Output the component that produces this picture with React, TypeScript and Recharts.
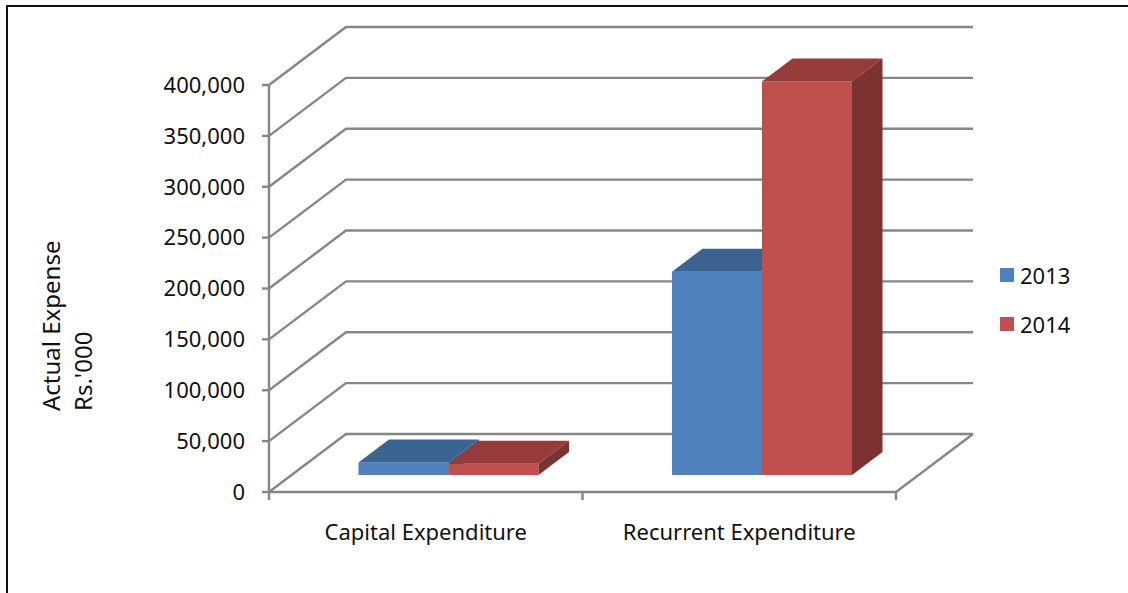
import { Bar, BarChart, CartesianGrid, Legend, XAxis, YAxis } from "recharts";

const categories = ["Capital Expenditure", "Recurrent Expenditure"];
const values2013 = [12400, 199800];
const values2014 = [11100, 386800];
const yTicks = [0, 50000, 100000, 150000, 200000, 250000, 300000, 350000, 400000];

const data = categories.map((name, i) => ({ name, y2013: values2013[i], y2014: values2014[i] }));

const WIDTH = 1128;
const HEIGHT = 593;
const FONT = "'Noto Sans', sans-serif";
const TEXT = "#111";
const GRID = "#868686";

// plot box of the front face
const LEFT = 269;
const RIGHT = 896;
const TOP = 85;
const BOTTOM = 492;
const BAND_HALF = (RIGHT - LEFT) / categories.length / 2;

// wall depth, and where a bar sits on the floor
const WALL_DX = 77;
const WALL_DY = 58;
const BAR_DX = 22.5;
const BAR_DY = 17;
const DEPTH_X = 30.5;
const DEPTH_Y = 23;

function GridLine({ x1, x2, y1 }: any) {
  const isFloor = Math.abs(y1 - BOTTOM) < 1;
  return (
    <g fill="none" stroke={GRID} strokeWidth={2.4}>
      <path d={`M${x1},${y1} L${x1 + WALL_DX},${y1 - WALL_DY} L${x2 + WALL_DX},${y1 - WALL_DY}`} />
      {isFloor && <path d={`M${x2},${y1} L${x2 + WALL_DX},${y1 - WALL_DY}`} />}
    </g>
  );
}

const box3d = (top: string, side: string) => (props: any) => {
  const x = props.x + BAR_DX;
  const y = props.y - BAR_DY;
  const { width, height, fill } = props;
  return (
    <g>
      <rect x={x} y={y} width={width} height={height} fill={fill} />
      <path
        d={`M${x},${y} L${x + DEPTH_X},${y - DEPTH_Y} L${x + width + DEPTH_X},${y - DEPTH_Y} L${x + width},${y} Z`}
        fill={top}
      />
      <path
        d={`M${x + width},${y} L${x + width + DEPTH_X},${y - DEPTH_Y} L${x + width + DEPTH_X},${y + height - DEPTH_Y} L${x + width},${y + height} Z`}
        fill={side}
      />
    </g>
  );
};

function CategoryTick({ x, payload, index }: any) {
  return (
    <g>
      <line x1={x - BAND_HALF} x2={x - BAND_HALF} y1={BOTTOM} y2={BOTTOM + 8} stroke={GRID} strokeWidth={2.4} />
      {index === categories.length - 1 && (
        <line x1={x + BAND_HALF} x2={x + BAND_HALF} y1={BOTTOM} y2={BOTTOM + 8} stroke={GRID} strokeWidth={2.4} />
      )}
      <text x={x} y={540} textAnchor="middle" fontSize={22} fontFamily={FONT} fill={TEXT}>
        {payload.value}
      </text>
    </g>
  );
}

function AxisTitle() {
  return (
    <g fontSize={24} fontFamily={FONT} fill={TEXT} textAnchor="start">
      <text transform="translate(60,411) rotate(-90)">Actual Expense</text>
      <text transform="translate(92,411) rotate(-90)">Rs.'000</text>
    </g>
  );
}

function LegendBox({ payload }: any) {
  return (
    <div>
      {payload.map((item: any) => (
        <div key={item.value} style={{ display: "flex", alignItems: "center", height: 49, fontFamily: FONT, fontSize: 22, color: TEXT }}>
          <span style={{ width: 14, height: 14, background: item.color, marginRight: 6 }} />
          {item.value}
        </div>
      ))}
    </div>
  );
}

export default function App() {
  return (
    <div style={{ position: "absolute", left: 0, top: 0, width: WIDTH, height: HEIGHT, background: "#fff", overflow: "hidden" }}>
      <div style={{ position: "absolute", left: 6, top: 5, right: 0, bottom: 0, borderTop: "2px solid #111", borderLeft: "2px solid #111" }} />
      <BarChart
        width={WIDTH}
        height={HEIGHT}
        data={data}
        barSize={90}
        barGap={0}
        margin={{ top: TOP, right: WIDTH - RIGHT, bottom: 41, left: LEFT - 200 }}
        style={{ position: "absolute", left: 0, top: 0 }}
      >
        <CartesianGrid vertical={false} horizontal={(p: any) => <GridLine key={p.key} {...p} />} />
        <XAxis
          dataKey="name"
          height={60}
          interval={0}
          tickLine={false}
          axisLine={{ stroke: GRID, strokeWidth: 2.4 }}
          tick={<CategoryTick />}
        />
        <YAxis
          width={200}
          domain={[0, 400000]}
          ticks={yTicks}
          interval={0}
          tickSize={7}
          tickMargin={17}
          tickFormatter={(v: number) => v.toLocaleString("en-US")}
          tick={{ fontSize: 22, fontFamily: FONT, fill: TEXT }}
          tickLine={{ stroke: GRID, strokeWidth: 2.4 }}
          axisLine={{ stroke: GRID, strokeWidth: 2.4 }}
          label={{ content: <AxisTitle /> }}
        />
        <Legend
          layout="vertical"
          align="center"
          verticalAlign="middle"
          content={<LegendBox />}
          wrapperStyle={{ left: 1000, top: 250, width: 100 }}
        />
        <Bar dataKey="y2013" name="2013" fill="#4F81BD" isAnimationActive={false} shape={box3d("#3D6391", "#35577F")} />
        <Bar dataKey="y2014" name="2014" fill="#C0504D" isAnimationActive={false} shape={box3d("#953C3A", "#7B3230")} />
      </BarChart>
    </div>
  );
}
